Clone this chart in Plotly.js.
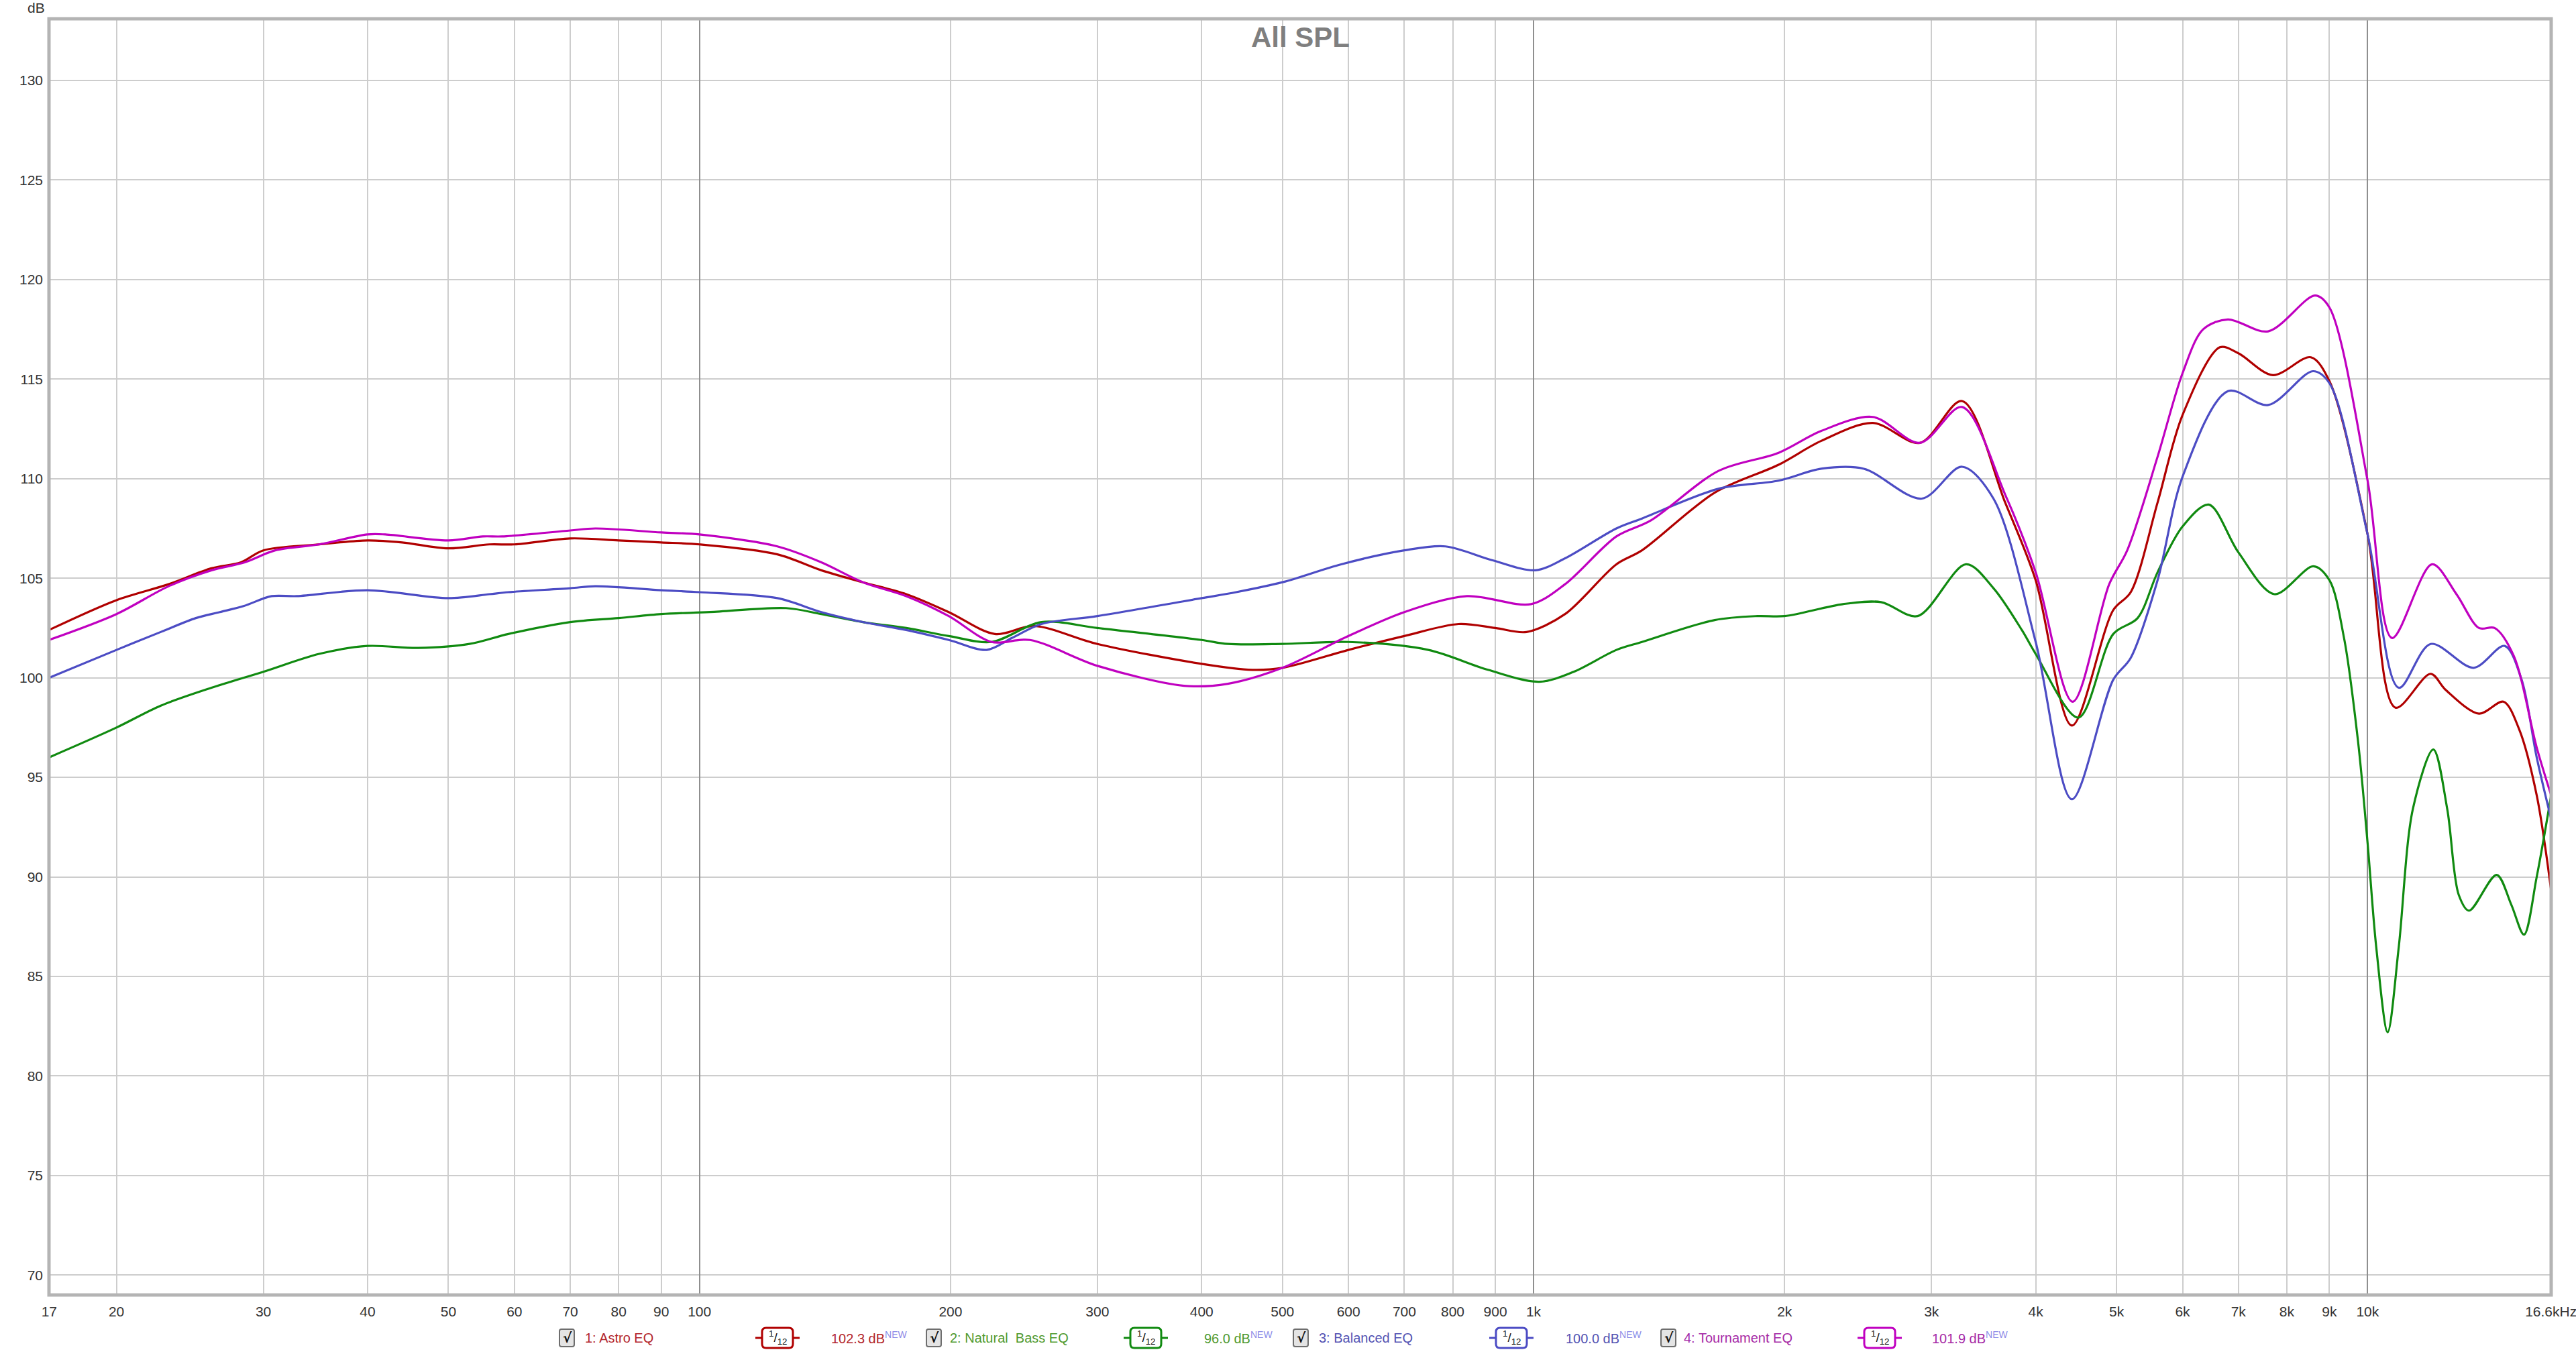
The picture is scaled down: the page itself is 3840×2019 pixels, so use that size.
<!DOCTYPE html>
<html>
<head>
<meta charset="utf-8">
<script src="https://cdn.plot.ly/plotly-3.0.1.min.js"></script>
<style>html,body{margin:0;padding:0;background:#fff;}#chart{width:3840px;height:2019px;}</style>
</head>
<body>
<div id="chart"></div>
<script>
// ---------------- DATA ----------------
const seriesNames = ["1: Astro EQ", "2: Natural  Bass EQ", "3: Balanced EQ", "4: Tournament EQ"];
const seriesLevels = ["102.3 dB", "96.0 dB", "100.0 dB", "101.9 dB"];

const freqAstro = [16.6,20,23.1,26,28.2,30,35,40,44,50,56,60,70,80,90,100,124,140,157,177,199,226,252,300,400,460,500,600,700,813,900,981,1091,1257,1349,1649,1967,2213,2552,2906,3264,3677,4000,4420,4955,5200,5600,6000,6650,7000,7700,8550,9000,10000,10800,11900,12400,13600,14550,15200,15950,16600];
const dbAstro   = [102.4,103.9,104.7,105.5,105.8,106.4,106.7,106.9,106.8,106.5,106.7,106.7,107.0,106.9,106.8,106.7,106.2,105.4,104.8,104.2,103.3,102.2,102.6,101.7,100.7,100.4,100.5,101.4,102.1,102.7,102.5,102.3,103.2,105.7,106.4,109.3,110.7,111.9,112.8,111.8,113.9,108.8,104.9,97.6,103.4,104.3,108.8,113.2,116.6,116.3,115.2,116.1,114.9,107.2,98.5,100.2,99.4,98.2,98.8,97.4,94.1,89.3];

const freqNatural = [16.6,20,22.6,26,30,35,40,46,53,59,70,80,90,103,127,140,157,177,199,224,257,300,400,430,500,600,748,882,1016,1117,1257,1349,1649,1855,2000,2349,2610,2887,3300,3560,3850,4000,4500,4955,5300,5600,6000,6450,7000,7730,8610,9000,9370,9740,10000,10240,10570,10900,11330,11990,12460,12860,13230,14280,14870,15400,15950,16600];
const dbNatural   = [96.0,97.5,98.6,99.5,100.3,101.2,101.6,101.5,101.7,102.2,102.8,103.0,103.2,103.3,103.5,103.2,102.8,102.5,102.1,101.8,102.8,102.5,101.9,101.7,101.7,101.8,101.4,100.4,99.8,100.3,101.4,101.8,102.9,103.1,103.1,103.7,103.8,103.1,105.7,104.5,102.4,101.2,98.0,102.2,103.0,105.3,107.6,108.7,106.3,104.2,105.6,104.9,102.0,96.8,91.7,86.5,82.2,86.5,93.4,96.4,93.4,89.1,88.3,90.1,88.6,87.1,90.0,94.1];

const freqBalanced = [16.6,20,22.6,24.9,26.6,28.4,30.7,32.9,40,50,56,59,70,75,90,100,124,140,157,177,199,221,237,257,300,400,440,500,588,700,784,893,1005,1091,1257,1349,1668,1967,2213,2489,2920,3264,3560,4000,4420,4955,5200,5600,6000,6800,7600,8600,9000,10000,10900,11900,13400,14600,15300,15950,16600];
const dbBalanced   = [100.0,101.4,102.3,103.0,103.3,103.6,104.1,104.1,104.4,104.0,104.2,104.3,104.5,104.6,104.4,104.3,104.0,103.3,102.8,102.4,101.9,101.4,102.0,102.7,103.1,104.0,104.3,104.8,105.7,106.4,106.6,105.9,105.4,106.0,107.5,108.0,109.5,109.9,110.5,110.5,109.0,110.6,109.0,101.8,93.9,99.9,101.0,104.9,110.1,114.4,113.7,115.4,114.8,107.2,99.5,101.7,100.5,101.6,99.9,96.0,92.9];

const freqTournament = [16.6,20,23.1,26,28.5,31,35,40,42,50,55,58,70,75,90,100,124,140,157,177,199,224,249,300,381,430,500,600,700,832,993,1091,1257,1382,1668,1967,2213,2552,2906,3264,3677,4000,4430,4900,5150,5600,6000,6350,6800,7600,8650,9000,10000,10700,11950,12780,13600,14200,14970,15950,16600];
const dbTournament   = [101.9,103.2,104.6,105.4,105.8,106.4,106.7,107.2,107.2,106.9,107.1,107.1,107.4,107.5,107.3,107.2,106.6,105.8,104.8,104.1,103.1,101.8,101.9,100.6,99.6,99.7,100.5,102.1,103.3,104.1,103.7,104.7,107.1,107.9,110.4,111.3,112.4,113.1,111.8,113.6,109.2,105.3,98.8,104.7,106.4,111.1,115.3,117.5,118.0,117.4,119.2,118.6,109.9,102.0,105.7,104.2,102.5,102.5,101.1,96.5,94.1];

const xTickVals = [16.61,20,30,40,50,60,70,80,90,100,200,300,400,500,600,700,800,900,1000,2000,3000,4000,5000,6000,7000,8000,9000,10000,16590];
const xTickText = ["17","20","30","40","50","60","70","80","90","100","200","300","400","500","600","700","800","900","1k","2k","3k","4k","5k","6k","7k","8k","9k","10k","16.6kHz"];
const xDecades = [100,1000,10000];
const yTickVals = [70,75,80,85,90,95,100,105,110,115,120,125,130];

// ---------------- STYLE ----------------
const lineColors = ["#b00000", "#108a10", "#4c4cc4", "#c000c0"];
const textColors = ["#b3262b", "#4f9a2f", "#5353b3", "#a62aa6"];
const W = 3840, H = 2019;
const M = {l: 73, r: 37, t: 28, b: 88};
const PW = W - M.l - M.r, PH = H - M.t - M.b;
const px = x => (x - M.l) / PW;
const py = y => (H - M.b - y) / PH;
const FONT = "Liberation Sans, Arial, sans-serif";

const freqs = [freqAstro, freqNatural, freqBalanced, freqTournament];
const dbs = [dbAstro, dbNatural, dbBalanced, dbTournament];

const traces = freqs.map((f, i) => ({
  type: "scatter", mode: "lines", x: f, y: dbs[i], name: seriesNames[i],
  line: {color: lineColors[i], width: 3.2, shape: "spline", smoothing: 0.9},
  hoverinfo: "x+y+name"
}));

const shapes = [];
const annotations = [];

// plot frame
shapes.push({type: "rect", xref: "paper", yref: "paper", x0: 0, x1: 1, y0: 0, y1: 1,
  line: {color: "#b4b4b4", width: 5}, layer: "above"});

// title
annotations.push({xref: "paper", yref: "paper", x: 0.5, y: py(56), xanchor: "center", yanchor: "middle",
  text: "<b>All SPL</b>", showarrow: false, font: {family: FONT, size: 42, color: "#7f7f7f"}});
// dB unit
annotations.push({xref: "paper", yref: "paper", x: px(54), y: py(12), xanchor: "center", yanchor: "middle",
  text: "dB", showarrow: false, font: {family: FONT, size: 21, color: "#333333"}});

// legend row
const cbX = [845, 1392, 1939, 2487];
const nameX = [870, 1414, 1964, 2508];
const iconX = [1159, 1708, 2253, 2802];
const levelX = [1237, 1793, 2332, 2878];
const legY = 1995;

function roundRectPath(x0, y0, x1, y1, r) {
  const X = v => px(v), Y = v => py(v);
  return `M${X(x0 + r)},${Y(y0)} L${X(x1 - r)},${Y(y0)} Q${X(x1)},${Y(y0)} ${X(x1)},${Y(y0 + r)} ` +
    `L${X(x1)},${Y(y1 - r)} Q${X(x1)},${Y(y1)} ${X(x1 - r)},${Y(y1)} L${X(x0 + r)},${Y(y1)} ` +
    `Q${X(x0)},${Y(y1)} ${X(x0)},${Y(y1 - r)} L${X(x0)},${Y(y0 + r)} Q${X(x0)},${Y(y0)} ${X(x0 + r)},${Y(y0)} Z`;
}

for (let i = 0; i < 4; i++) {
  // checkbox
  shapes.push({type: "path", xref: "paper", yref: "paper",
    path: roundRectPath(cbX[i] - 11, legY - 13, cbX[i] + 11, legY + 13, 3),
    line: {color: "#6e6e6e", width: 2}, fillcolor: "#e4e4e4"});
  annotations.push({xref: "paper", yref: "paper", x: px(cbX[i] + 1), y: py(legY), xanchor: "center", yanchor: "middle",
    text: "<b>√</b>", showarrow: false, font: {family: "DejaVu Sans, sans-serif", size: 20, color: "#111111"}});
  // series name
  annotations.push({xref: "paper", yref: "paper", x: px(nameX[i]), y: py(legY), xanchor: "left", yanchor: "middle",
    text: seriesNames[i].replace(/  /g, "&nbsp; "), showarrow: false, font: {family: FONT, size: 20, color: textColors[i]}});
  // smoothing icon
  shapes.push({type: "line", xref: "paper", yref: "paper", x0: px(iconX[i] - 33), x1: px(iconX[i] + 33),
    y0: py(legY), y1: py(legY), line: {color: lineColors[i], width: 3}});
  shapes.push({type: "path", xref: "paper", yref: "paper",
    path: roundRectPath(iconX[i] - 23, legY - 15, iconX[i] + 23, legY + 15, 6),
    line: {color: lineColors[i], width: 3}, fillcolor: "#ffffff"});
  annotations.push({xref: "paper", yref: "paper", x: px(iconX[i]), y: py(legY), xanchor: "center", yanchor: "middle",
    text: "<sup>1</sup>/<sub>12</sub>", showarrow: false, font: {family: FONT, size: 19, color: "#111111"}});
  // level
  annotations.push({xref: "paper", yref: "paper", x: px(levelX[i]), y: py(legY), xanchor: "left", yanchor: "middle",
    text: seriesLevels[i] + "<sup><span style=\"color:#8c8ce8\">NEW</span></sup>", showarrow: false,
    font: {family: FONT, size: 20, color: textColors[i]}});
}

const xRange = [Math.log10(16.6), Math.log10(16600)];

const layout = {
  width: W, height: H,
  margin: M,
  paper_bgcolor: "#ffffff", plot_bgcolor: "#ffffff",
  showlegend: false,
  xaxis: {
    type: "log", range: xRange, tickmode: "array", tickvals: xTickVals, ticktext: xTickText,
    showgrid: true, gridcolor: "#cdcdcd", gridwidth: 2, zeroline: false, showline: false,
    ticks: "", ticklabelstandoff: 10, ticklabeloverflow: "allow",
    tickfont: {family: FONT, size: 21, color: "#333333"}
  },
  xaxis2: {
    type: "log", range: xRange, overlaying: "x", anchor: "y", tickmode: "array", tickvals: xDecades,
    showticklabels: false, showgrid: true, gridcolor: "#8f8f8f", gridwidth: 2, zeroline: false, showline: false, ticks: ""
  },
  yaxis: {
    range: [69.0, 133.1], tickmode: "array", tickvals: yTickVals,
    showgrid: true, gridcolor: "#cdcdcd", gridwidth: 2, zeroline: false, showline: false,
    ticks: "", ticklabelstandoff: 8,
    tickfont: {family: FONT, size: 21, color: "#333333"}
  },
  shapes: shapes,
  annotations: annotations
};

// empty trace so the overlay axis carrying the darker decade grid lines is drawn
const decadeAxisTrace = {type: "scatter", mode: "lines", x: [], y: [], xaxis: "x2", yaxis: "y", hoverinfo: "skip", showlegend: false};

Plotly.newPlot("chart", [decadeAxisTrace].concat(traces), layout, {staticPlot: true, displayModeBar: false});
</script>
</body>
</html>
